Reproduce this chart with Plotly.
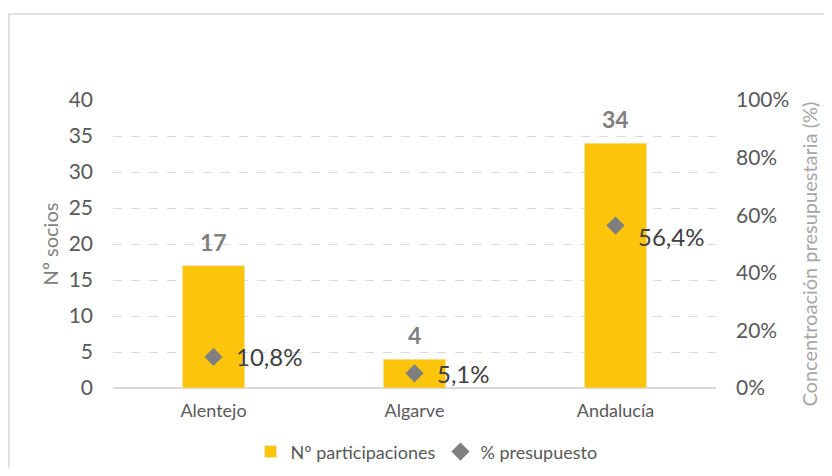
import plotly.graph_objects as go

regiones = ["Alentejo", "Algarve", "Andalucía"]
participaciones = [17, 4, 34]
presupuesto = [10.8, 5.1, 56.4]

font = "Lato, 'Open Sans', sans-serif"
pct_text = [f"{v:.1f}".replace(".", ",") + "%" for v in presupuesto]

fig = go.Figure()
fig.add_trace(go.Bar(
    x=regiones, y=participaciones, name="Nº participaciones",
    marker=dict(color="#FDC40C"), width=0.31,
))
fig.add_trace(go.Scatter(
    x=regiones, y=[v / 100 for v in presupuesto], name="% presupuesto",
    yaxis="y2", mode="markers",
    marker=dict(symbol="diamond", size=14, color="#7F7F7F"),
))

annotations = []
for reg, n in zip(regiones, participaciones):
    annotations.append(dict(
        x=reg, y=n, xref="x", yref="y", text=str(n), showarrow=False,
        yanchor="bottom", yshift=8,
        font=dict(size=23, color="#7F7F7F", family=font, weight="bold"),
    ))
for i, (reg, v) in enumerate(zip(regiones, presupuesto)):
    # the last label was dragged down a bit in the original
    annotations.append(dict(
        x=reg, y=v / 100, xref="x", yref="y2", text=pct_text[i], showarrow=False,
        xanchor="left", xshift=20, yshift=-11 if i == 2 else 0,
        font=dict(size=24, color="#404040", family=font),
    ))
# right axis title as annotation so it sits where the original has it
annotations.append(dict(
    text="Concentroación presupuestaria (%)", xref="paper", yref="paper",
    x=1.155, y=0.465, textangle=-90, showarrow=False,
    xanchor="center", yanchor="middle", font=dict(size=20, color="#A6A6A6", family=font),
))

fig.update_layout(
    width=816, height=460,
    margin=dict(l=105, r=108, t=92, b=80),
    paper_bgcolor="white", plot_bgcolor="white",
    font=dict(family=font, color="#595959", size=21),
    showlegend=True,
    legend=dict(orientation="h", x=0.52, xanchor="center", yref="container", y=0.035,
                yanchor="middle", font=dict(size=18, color="#595959"), itemwidth=30),
    xaxis=dict(showgrid=False, ticks="", tickfont=dict(size=18), ticklabelstandoff=10,
               automargin=False),
    yaxis=dict(title=dict(text="Nº socios", font=dict(size=20, color="#7F7F7F"), standoff=4),
               range=[0, 40], dtick=5, showgrid=True, gridcolor="#D9D9D9",
               griddash="dash", zeroline=True, zerolinecolor="#D9D9D9", zerolinewidth=1.5,
               ticklabelstandoff=19, automargin=False),
    yaxis2=dict(overlaying="y", side="right", range=[0, 1], dtick=0.2,
                tickformat=".0%", showgrid=False, zeroline=False, ticklabelstandoff=19,
                automargin=False),
    annotations=annotations,
    shapes=[dict(type="rect", xref="paper", yref="paper", x0=-0.1725, x1=1.4, y0=-0.6, y1=1.2986,
                 line=dict(color="#D9D9D9", width=1.5))],
)

fig.write_html("out.html")
